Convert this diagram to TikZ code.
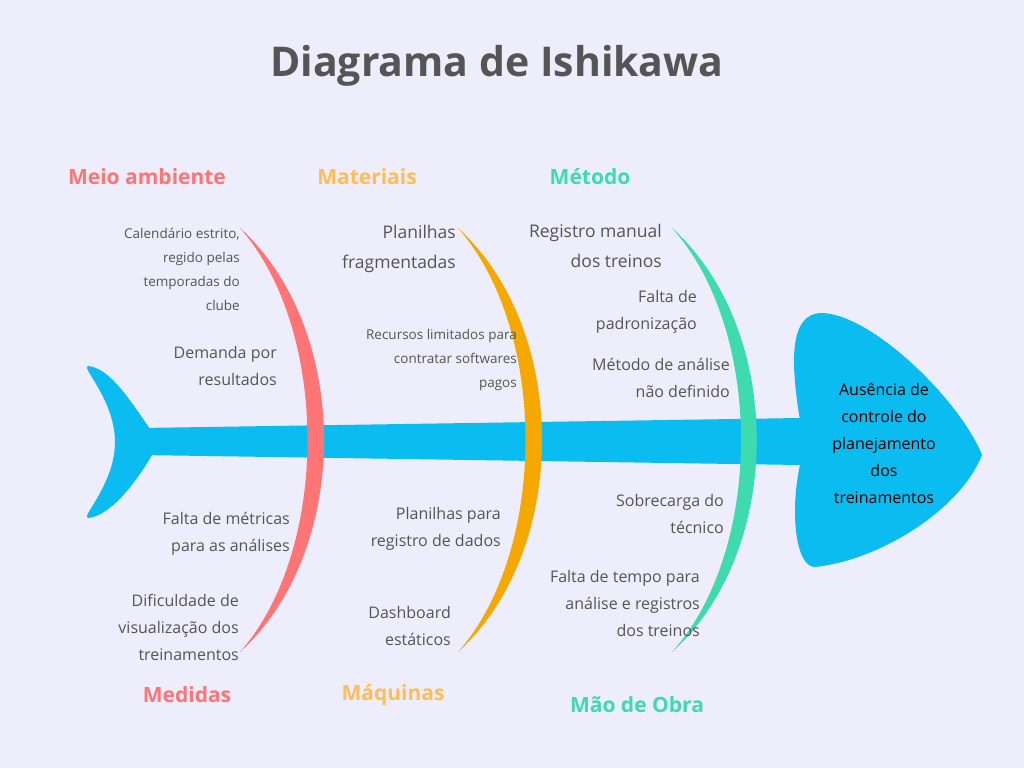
\documentclass[tikz,border=0pt]{standalone}
\usepackage{fontspec}
\setmainfont{Open Sans}
\definecolor{bg}{HTML}{EEEDFC}
\definecolor{fish}{HTML}{0ABCF0}
\definecolor{cred}{HTML}{FF7474}
\definecolor{corg}{HTML}{F5A800}
\definecolor{corgl}{HTML}{FFBE55}
\definecolor{cgrn}{HTML}{3DDBAE}
\definecolor{txt}{HTML}{555555}
\begin{document}
\begin{tikzpicture}[x=1pt,y=-1pt,
 item/.style={anchor=east,align=right,text=txt,font=\fontsize{16}{27}\selectfont,inner sep=0},
 small/.style={anchor=east,align=right,text=txt,font=\fontsize{13.5}{24}\selectfont,inner sep=0},
 big/.style={anchor=east,align=right,text=txt,font=\fontsize{17.5}{30}\selectfont,inner sep=0},
 cat/.style={font=\fontsize{21}{26}\selectfont\bfseries,inner sep=0}]
\useasboundingbox[fill=bg] (0,0) rectangle (1024,768);
\node[font=\fontsize{41}{50}\selectfont\bfseries,text=txt] (title) at (497,66) {Diagrama de Ishikawa};
% fish
\fill[fish] (140,428) -- (800,418) -- (800,465) -- (140,455) -- cycle;
\fill[fish] (152,432) .. controls (130,400) and (110,368) .. (88,366) .. controls (80,366) and (115,400) .. (115,442) .. controls (115,484) and (80,518) .. (88,518) .. controls (110,516) and (135,484) .. (152,455) -- cycle;
\fill[fish] (800,420) .. controls (790,360) and (790,315) .. (820,313) .. controls (870,312) and (960,400) .. (982,455) .. controls (960,510) and (880,560) .. (815,567) .. controls (795,567) and (790,510) .. (800,465) -- cycle;
\node[align=center,font=\fontsize{16}{27}\selectfont,text=black] (effect) at (884,443) {Ausência de\\controle do\\planejamento\\dos\\treinamentos};
% arcs
\fill[cred] (240,228) .. controls (352,330) and (352,550) .. (240,652) .. controls (330,550) and (330,330) .. (240,228);
\fill[corg] (458,228) .. controls (570,330) and (570,550) .. (458,652) .. controls (548,550) and (548,330) .. (458,228);
\fill[cgrn] (672,228) .. controls (785,330) and (785,550) .. (672,652) .. controls (764,550) and (764,330) .. (672,228);
% categories
\node[cat,text=cred] (c1) at (147,177) {Meio ambiente};
\node[cat,text=corgl] (c2) at (367,177) {Materiais};
\node[cat,text=cgrn] (c3) at (590,177) {Método};
\node[cat,text=cred] (c4) at (187,695) {Medidas};
\node[cat,text=corgl] (c5) at (393,695) {Máquinas};
\node[cat,text=cgrn] (c6) at (637,705) {Mão de Obra};
% red items
\node[small] (r1) at (240,269) {Calendário estrito,\\regido pelas\\temporadas do\\clube};
\node[item] (r2) at (277,366) {Demanda por\\resultados};
\node[item] (r3) at (290,534) {Falta de métricas\\para as análises};
\node[item] (r4) at (239,627) {Dificuldade de\\visualização dos\\treinamentos};
% orange items
\node[big] (o1) at (456,249) {Planilhas\\fragmentadas};
\node[small] (o2) at (517,360) {Recursos limitados para\\contratar softwares\\pagos};
\node[item] (o3) at (501,529) {Planilhas para\\registro de dados};
\node[item] (o4) at (451,626) {Dashboard\\estáticos};
% green items
\node[big] (g1) at (662,246) {Registro manual\\dos treinos};
\node[item] (g2) at (697,312) {Falta de\\padronização};
\node[item] (g3) at (730,378) {Método de análise\\não definido};
\node[item] (g4) at (724,514) {Sobrecarga do\\técnico};
\node[item] (g5) at (700,603) {Falta de tempo para\\análise e registros\\dos treinos};
\end{tikzpicture}
\end{document}
